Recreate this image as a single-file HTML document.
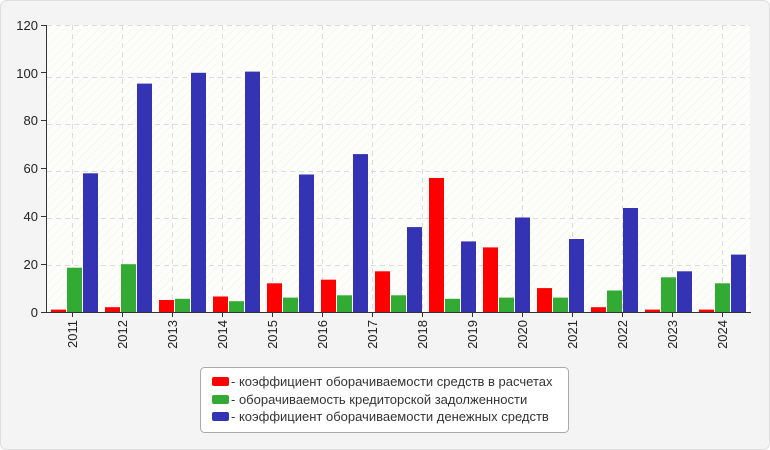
<!DOCTYPE html>
<html><head><meta charset="utf-8"><style>
body{margin:0;background:#fff;}
svg{display:block;font-family:"Liberation Sans",Arial,sans-serif;}
</style></head><body>
<svg width="770" height="450" viewBox="0 0 770 450" xmlns="http://www.w3.org/2000/svg">
<defs>
<pattern id="h" width="6" height="6" patternUnits="userSpaceOnUse" patternTransform="rotate(45)">
<rect width="6" height="6" fill="#fdfdf9"/><line x1="0" y1="0" x2="0" y2="6" stroke="#f0f0ec" stroke-width="1"/>
</pattern>
</defs>
<rect x="0.5" y="0.5" width="769" height="449" rx="6" fill="#f4f4f4" stroke="#dedede"/>
<rect x="47" y="25" width="703" height="287" fill="url(#h)"/>
<g stroke="#dcdcdc" stroke-dasharray="5,4" stroke-width="1">
<line x1="47" x2="750" y1="265.5" y2="265.5"/>
<line x1="47" x2="750" y1="218.5" y2="218.5"/>
<line x1="47" x2="750" y1="171.5" y2="171.5"/>
<line x1="47" x2="750" y1="124.5" y2="124.5"/>
<line x1="47" x2="750" y1="77.5" y2="77.5"/>
<line x1="47" x2="750" y1="25.5" y2="25.5"/>
<line x1="72.5" x2="72.5" y1="25" y2="312"/><line x1="122.5" x2="122.5" y1="25" y2="312"/>
<line x1="172.5" x2="172.5" y1="25" y2="312"/><line x1="222.5" x2="222.5" y1="25" y2="312"/>
<line x1="272.5" x2="272.5" y1="25" y2="312"/><line x1="322.5" x2="322.5" y1="25" y2="312"/>
<line x1="372.5" x2="372.5" y1="25" y2="312"/><line x1="422.5" x2="422.5" y1="25" y2="312"/>
<line x1="472.5" x2="472.5" y1="25" y2="312"/><line x1="522.5" x2="522.5" y1="25" y2="312"/>
<line x1="572.5" x2="572.5" y1="25" y2="312"/><line x1="622.5" x2="622.5" y1="25" y2="312"/>
<line x1="672.5" x2="672.5" y1="25" y2="312"/><line x1="722.5" x2="722.5" y1="25" y2="312"/>
</g>
<g fill="#ff0000">
<rect x="51" y="309.6" width="15" height="2.4"/>
<rect x="105" y="307.2" width="15" height="4.8"/>
<rect x="159" y="300" width="15" height="12"/>
<rect x="213" y="296.5" width="15" height="15.5"/>
<rect x="267" y="283.3" width="15" height="28.7"/>
<rect x="321" y="279.7" width="15" height="32.3"/>
<rect x="375" y="271.3" width="15" height="40.7"/>
<rect x="429" y="178" width="15" height="134"/>
<rect x="483" y="247.4" width="15" height="64.6"/>
<rect x="537" y="288.1" width="15" height="23.9"/>
<rect x="591" y="307.2" width="15" height="4.8"/>
<rect x="645" y="309.6" width="15" height="2.4"/>
<rect x="699" y="309.6" width="15" height="2.4"/>
</g>
<g fill="#33aa33">
<rect x="67" y="267.7" width="15" height="44.3"/>
<rect x="121" y="264.2" width="15" height="47.8"/>
<rect x="175" y="298.8" width="15" height="13.2"/>
<rect x="229" y="301.2" width="15" height="10.8"/>
<rect x="283" y="297.6" width="15" height="14.4"/>
<rect x="337" y="295.3" width="15" height="16.7"/>
<rect x="391" y="295.3" width="15" height="16.7"/>
<rect x="445" y="298.8" width="15" height="13.2"/>
<rect x="499" y="297.6" width="15" height="14.4"/>
<rect x="553" y="297.6" width="15" height="14.4"/>
<rect x="607" y="290.5" width="15" height="21.5"/>
<rect x="661" y="277.3" width="15" height="34.7"/>
<rect x="715" y="283.3" width="15" height="28.7"/>
</g>
<g fill="#3333b3">
<rect x="83" y="173.3" width="15" height="138.7"/>
<rect x="137" y="83.6" width="15" height="228.4"/>
<rect x="191" y="72.8" width="15" height="239.2"/>
<rect x="245" y="71.6" width="15" height="240.4"/>
<rect x="299" y="174.5" width="15" height="137.5"/>
<rect x="353" y="154.1" width="15" height="157.9"/>
<rect x="407" y="227.1" width="15" height="84.9"/>
<rect x="461" y="241.4" width="15" height="70.6"/>
<rect x="515" y="217.5" width="15" height="94.5"/>
<rect x="569" y="239" width="15" height="73"/>
<rect x="623" y="208" width="15" height="104"/>
<rect x="677" y="271.3" width="15" height="40.7"/>
<rect x="731" y="254.6" width="15" height="57.4"/>
</g>
<g stroke="#333" stroke-width="1">
<line x1="46.5" y1="25" x2="46.5" y2="312"/>
<line x1="46" y1="312.5" x2="751" y2="312.5"/>
<line x1="41" x2="46" y1="25.5" y2="25.5"/><line x1="41" x2="46" y1="72.5" y2="72.5"/>
<line x1="41" x2="46" y1="120.5" y2="120.5"/><line x1="41" x2="46" y1="168.5" y2="168.5"/>
<line x1="41" x2="46" y1="216.5" y2="216.5"/><line x1="41" x2="46" y1="264.5" y2="264.5"/>
<line x1="41" x2="46" y1="312.5" y2="312.5"/>
<line x1="72.5" x2="72.5" y1="312" y2="317"/><line x1="122.5" x2="122.5" y1="312" y2="317"/>
<line x1="172.5" x2="172.5" y1="312" y2="317"/><line x1="222.5" x2="222.5" y1="312" y2="317"/>
<line x1="272.5" x2="272.5" y1="312" y2="317"/><line x1="322.5" x2="322.5" y1="312" y2="317"/>
<line x1="372.5" x2="372.5" y1="312" y2="317"/><line x1="422.5" x2="422.5" y1="312" y2="317"/>
<line x1="472.5" x2="472.5" y1="312" y2="317"/><line x1="522.5" x2="522.5" y1="312" y2="317"/>
<line x1="572.5" x2="572.5" y1="312" y2="317"/><line x1="622.5" x2="622.5" y1="312" y2="317"/>
<line x1="672.5" x2="672.5" y1="312" y2="317"/><line x1="722.5" x2="722.5" y1="312" y2="317"/>
</g>
<g font-size="13" fill="#222" text-anchor="end">
<text x="38" y="30">120</text><text x="38" y="78">100</text><text x="38" y="125">80</text>
<text x="38" y="173">60</text><text x="38" y="221">40</text><text x="38" y="269">20</text><text x="38" y="317">0</text>
</g>
<g font-size="13" fill="#222" text-anchor="end">
<text transform="translate(77,320) rotate(-90)">2011</text>
<text transform="translate(127,320) rotate(-90)">2012</text>
<text transform="translate(177,320) rotate(-90)">2013</text>
<text transform="translate(227,320) rotate(-90)">2014</text>
<text transform="translate(277,320) rotate(-90)">2015</text>
<text transform="translate(327,320) rotate(-90)">2016</text>
<text transform="translate(377,320) rotate(-90)">2017</text>
<text transform="translate(427,320) rotate(-90)">2018</text>
<text transform="translate(477,320) rotate(-90)">2019</text>
<text transform="translate(527,320) rotate(-90)">2020</text>
<text transform="translate(577,320) rotate(-90)">2021</text>
<text transform="translate(627,320) rotate(-90)">2022</text>
<text transform="translate(677,320) rotate(-90)">2023</text>
<text transform="translate(727,320) rotate(-90)">2024</text>
</g>
<rect x="200.5" y="367.5" width="368" height="65" rx="4" fill="#fff" stroke="#aaa"/>
<rect x="212" y="377" width="17" height="9" rx="2" fill="#ff0000"/>
<rect x="212" y="395" width="17" height="9" rx="2" fill="#33aa33"/>
<rect x="212" y="412" width="17" height="9" rx="2" fill="#3333b3"/>
<g font-size="13" fill="#333">
<text x="231" y="386">- коэффициент оборачиваемости средств в расчетах</text>
<text x="231" y="404">- оборачиваемость кредиторской задолженности</text>
<text x="231" y="421">- коэффициент оборачиваемости денежных средств</text>
</g>
</svg>
</body></html>
